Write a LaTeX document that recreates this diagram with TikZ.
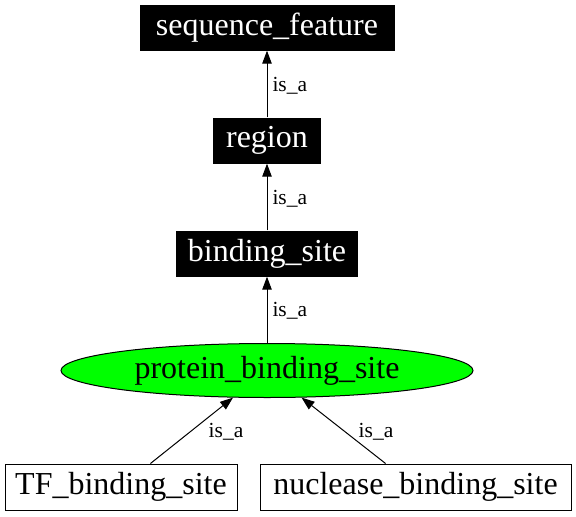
\documentclass[tikz,border=0pt]{standalone}
\usepackage{fontspec}
\setmainfont{Liberation Serif}
\usetikzlibrary{arrows.meta,shapes.geometric}
\begin{document}
\begin{tikzpicture}[x=1pt,y=-1pt,
  blackbox/.style={rectangle,fill=black,text=white,inner sep=0pt,font=\fontsize{32}{38}\selectfont},
  whitebox/.style={rectangle,draw=black,line width=1pt,fill=white,inner sep=0pt,font=\fontsize{32}{38}\selectfont},
  ellnode/.style={ellipse,draw=black,line width=1pt,fill={rgb,255:red,0;green,255;blue,0},inner sep=0pt,font=\fontsize{32}{38}\selectfont},
  isa/.style={draw=black,line width=1pt,-{Triangle[length=13pt,width=9.5pt]}},
  lbl/.style={font=\fontsize{21.5}{26}\selectfont,inner sep=0pt}]
\useasboundingbox (0,0) rectangle (576,517);
\node[blackbox,minimum width=255pt,minimum height=46pt] (sf) at (267,27.5) {sequence\_feature};
\node[blackbox,minimum width=108pt,minimum height=46pt] (rg) at (267,140.5) {region};
\node[blackbox,minimum width=182pt,minimum height=46pt] (bs) at (267,253.5) {binding\_site};
\node[ellnode,minimum width=412pt,minimum height=54pt] (pbs) at (267,370.5) {protein\_binding\_site};
\node[whitebox,minimum width=232pt,minimum height=46pt] (tf) at (121,487) {TF\_binding\_site};
\node[whitebox,minimum width=311pt,minimum height=46pt] (nb) at (415.5,487) {nuclease\_binding\_site};
\draw[isa] (rg.north) -- node[lbl,right=5pt,pos=0.48] {is\_a} (sf.south);
\draw[isa] (bs.north) -- node[lbl,right=5pt,pos=0.48] {is\_a} (rg.south);
\draw[isa] (pbs.north) -- node[lbl,right=5pt,pos=0.48] {is\_a} (bs.south);
\draw[isa] (tf) -- (pbs);
\draw[isa] (nb) -- (pbs);
\node[lbl] (l1) at (226,432) {is\_a};
\node[lbl] (l2) at (376,432) {is\_a};
\end{tikzpicture}
\end{document}
